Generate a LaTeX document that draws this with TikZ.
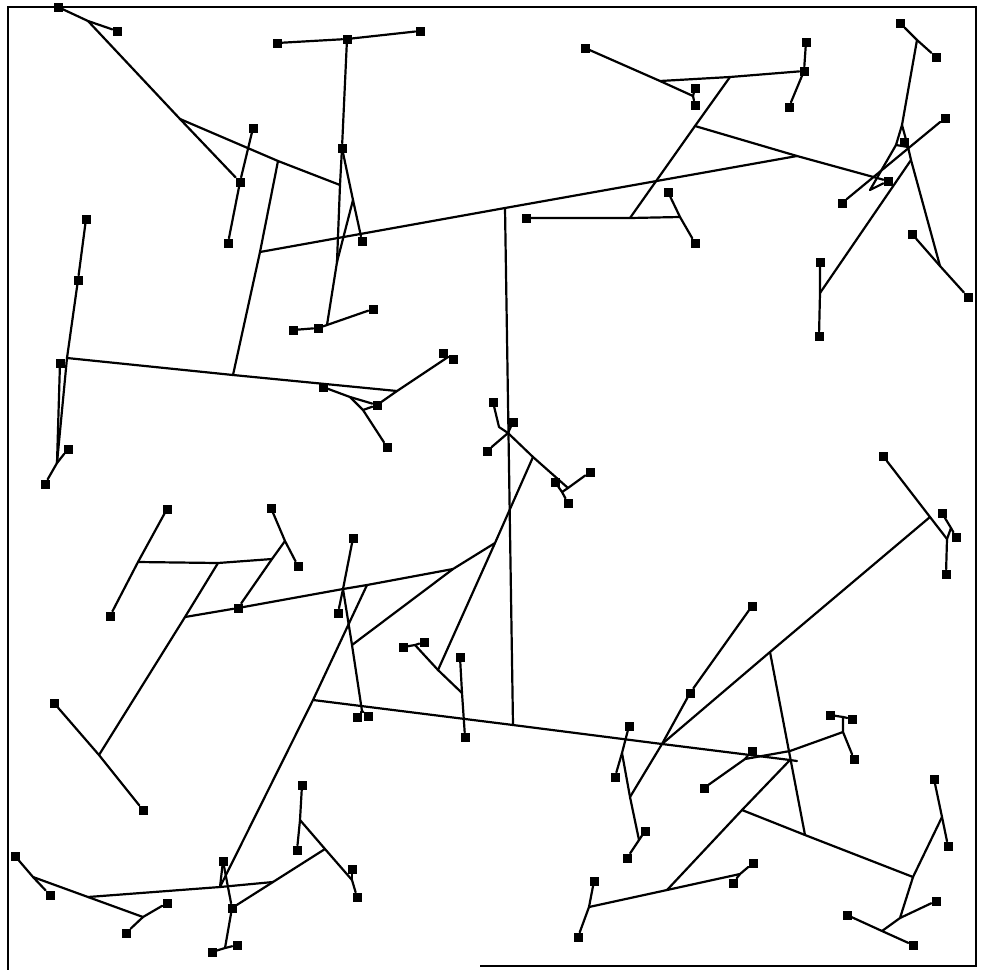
\documentclass[tikz,border=0pt]{standalone}
\begin{document}
\begin{tikzpicture}[x=1pt,y=-1pt,
  edge/.style={line width=2.2pt,line cap=round,line join=round},
  term/.style={rectangle,fill=black,minimum size=9pt,inner sep=0pt},
  frame/.style={line width=1.8pt}]
\useasboundingbox (0,0) rectangle (982,970);
% terminals
\foreach \n/\x/\y in {t1/58/7,t2/117/31,t3/253/128,t4/240/182,t5/228/243,t6/277/43,t7/347/39,t8/420/31,
 t9/342/148,t10/362/241,t11/293/330,t12/318/328,t13/373/309,t14/86/219,t15/78/280,t16/60/363,t17/68/449,
 t18/45/484,t19/323/387,t20/377/405,t21/387/447,t22/443/353,t23/453/359,t24/585/48,t25/695/88,t26/695/105,
 t27/806/42,t28/804/71,t29/789/107,t30/526/218,t31/668/192,t32/695/243,t33/900/23,t34/936/57,t35/945/118,
 t36/904/142,t37/888/181,t38/842/203,t39/912/234,t40/968/297,t41/820/262,t42/819/336,t43/493/402,t44/513/422,
 t45/487/451,t46/555/482,t47/590/472,t48/568/503,t49/167/509,t50/110/616,t51/271/508,t52/298/566,t53/238/608,
 t54/353/538,t55/338/613,t56/54/703,t57/143/810,t58/883/456,t59/942/513,t60/956/537,t61/946/574,t62/752/606,
 t63/690/693,t64/403/647,t65/424/642,t66/460/657,t67/465/737,t68/357/717,t69/368/716,t70/629/726,t71/615/777,
 t72/645/831,t73/627/858,t74/752/751,t75/704/788,t76/830/715,t77/852/719,t78/854/759,t79/594/881,t80/578/937,
 t81/753/863,t82/733/883,t83/934/779,t84/948/846,t85/936/901,t86/847/915,t87/913/945,t88/15/856,t89/50/895,
 t90/167/903,t91/126/933,t92/223/861,t93/232/908,t94/212/952,t95/237/945,t96/302/785,t97/297/850,t98/352/869,
 t99/357/897}
 {\node[term] (\n) at (\x,\y) {};}
% junction points
\foreach \n/\x/\y in {s1/88/21,s2/180/119,s3/278/161,p1/340/185,p2/337/262,q1/353/200,p3/327/325,s4/260/252,
 s5/233/375,s6/797/156,v1/505/208,v2/513/725,s7/695/126,s8/730/77,s9/630/218,s10/660/81,s11/693/96,s12/680/217,
 h1/67/358,h2/57/463,h3/397/391,h4/448/357,h5/350/397,h6/363/410,
 r1/917/40,r2/902/125,r3/896/145,r4/908/147,r5/911/160,r6/940/266,r7/820/293,r8/870/190,
 m1/508/433,m1a/499/427,m2/533/457,m3/568/488,m4/562/492,m5/495/543,m6/453/569,m7/352/645,m8/438/670,m9/415/645,m10/462/693,
 k0/185/617,k1/343/589,k2/367/585,k3/362/711,j1/313/700,J/662/744,lend/797/761,
 g1/99/755,g2/218/563,g3/138/562,g4/272/559,g5/285/541,
 b1/220/887,b2/88/897,b3/273/882,b5/325/849,b6/300/820,b7/352/880,b8/225/948,b9/33/877,b10/143/917,
 e0/930/517,U/947/539,u1/951/528,e1/770/652,e2/805/835,e3/742/810,X/790/760,e4/667/890,e5/913/877,
 e6/843/732,e7/843/717,e8/589/907,e9/740/874,e10/942/817,e11/900/918,e12/882/931,
 y1/745/759,y2/790/751,c1/630/797,c2/622/753,c3/639/840}
 {\coordinate (\n) at (\x,\y);}
% frame
\draw[frame] (480,966) -- (976,966) -- (976,7) -- (8,7) -- (8,970);
% edges
\begin{scope}[edge]
\draw (t1) -- (s1) -- (t2);
\draw (s1) -- (s2) -- (t4);
\draw (s2) -- (s3) -- (p1);
\draw (t3) -- (t4) -- (t5);
\draw (t6) -- (t7) -- (t8);
\draw (t7) -- (t9);
\draw (t9) -- (p1) -- (p2) -- (p3);
\draw (t9) -- (q1) -- (t10);
\draw (q1) -- (p2);
\draw (t11) -- (t12) -- (p3) -- (t13);
\draw (s3) -- (s4) -- (s5);
\draw (s4) -- (v1) -- (s6);
\draw (v1) -- (v2);
\draw (t14) -- (t15) -- (h1) -- (h2);
\draw (t16) -- (h2);
\draw (h2) -- (t17);
\draw (h2) -- (t18);
\draw (h1) -- (s5) -- (h3);
\draw (t20) -- (h3) -- (h4);
\draw (h4) -- (t22);
\draw (h4) -- (t23);
\draw (t19) -- (h5) -- (t20);
\draw (h5) -- (h6) -- (t21);
\draw (h6) -- (t20);
\draw (t24) -- (s10) -- (s11);
\draw (s11) -- (t25);
\draw (s11) -- (t26);
\draw (s10) -- (s8) -- (t28);
\draw (t27) -- (t28) -- (t29);
\draw (s8) -- (s7) -- (s9);
\draw (s7) -- (s6) -- (t37);
\draw (t30) -- (s9) -- (s12);
\draw (t31) -- (s12) -- (t32);
\draw (t33) -- (r1) -- (t34);
\draw (r1) -- (r2);
\draw (r2) -- (r3) -- (r4) -- (r2);
\draw (r4) -- (r5) -- (r6);
\draw (r6) -- (t39);
\draw (r6) -- (t40);
\draw (r5) -- (r7);
\draw (t41) -- (r7) -- (t42);
\draw (t35) -- (t38);
\draw (r3) -- (r8) -- (t37);
\draw (t43) -- (m1a) -- (m1);
\draw (t44) -- (m1);
\draw (t45) -- (m1);
\draw (m1) -- (m2) -- (m3);
\draw (m4) -- (m3) -- (t47);
\draw (t46) -- (m4) -- (t48);
\draw (m2) -- (m5) -- (m6) -- (m7);
\draw (m5) -- (m8);
\draw (t64) -- (m9) -- (t65);
\draw (m9) -- (m8) -- (m10);
\draw (t66) -- (m10) -- (t67);
\draw (t54) -- (k1) -- (t55);
\draw (k1) -- (m7) -- (k3);
\draw (k3) -- (t68);
\draw (k3) -- (t69);
\draw (k0) -- (t53) -- (k1) -- (k2) -- (m6);
\draw (k2) -- (j1) -- (b1);
\draw (j1) -- (v2) -- (J) -- (X) -- (lend);
\draw (t56) -- (g1) -- (t57);
\draw (g1) -- (k0) -- (g2);
\draw (t49) -- (g3) -- (t50);
\draw (g3) -- (g2) -- (g4);
\draw (t51) -- (g5) -- (t52);
\draw (g5) -- (g4) -- (t53);
\draw (t88) -- (b9) -- (t89);
\draw (b9) -- (b2) -- (b10);
\draw (b10) -- (t90);
\draw (b10) -- (t91);
\draw (b2) -- (b1) -- (b3);
\draw (t92) -- (b1);
\draw (t92) -- (t93);
\draw (b5) -- (b3) -- (t93);
\draw (t96) -- (b6) -- (t97);
\draw (b6) -- (b5) -- (b7);
\draw (b7) -- (t98);
\draw (b7) -- (t99);
\draw (t93) -- (b8);
\draw (t94) -- (b8) -- (t95);
\draw (t58) -- (e0) -- (U);
\draw (U) -- (t61);
\draw (U) -- (u1);
\draw (t59) -- (u1) -- (t60);
\draw (e0) -- (e1) -- (J);
\draw (e1) -- (e2);
\draw (e4) -- (e3) -- (X);
\draw (e3) -- (e2) -- (e5);
\draw (t62) -- (t63) -- (J) -- (c1);
\draw (t70) -- (c2) -- (t71);
\draw (c2) -- (c1) -- (c3);
\draw (c3) -- (t72);
\draw (c3) -- (t73);
\draw (t75) -- (y1) -- (y2) -- (e6);
\draw (y1) -- (t74);
\draw (t76) -- (e7) -- (t77);
\draw (e7) -- (e6) -- (t78);
\draw (t79) -- (e8) -- (t80);
\draw (e8) -- (e4) -- (e9);
\draw (e9) -- (t81);
\draw (e9) -- (t82);
\draw (e5) -- (e10);
\draw (t83) -- (e10) -- (t84);
\draw (e5) -- (e11) -- (t85);
\draw (e11) -- (e12);
\draw (t86) -- (e12) -- (t87);
\end{scope}
\end{tikzpicture}
\end{document}
